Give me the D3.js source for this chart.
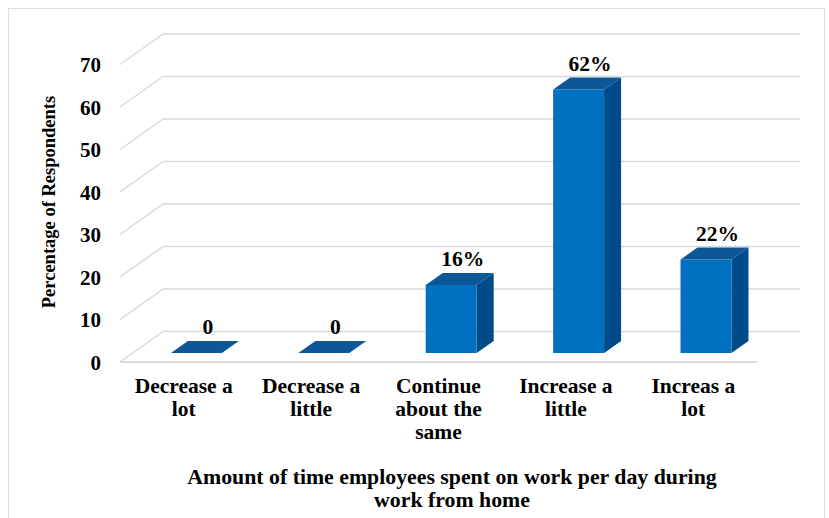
<!DOCTYPE html>
<html>
<head>
<meta charset="utf-8">
<script src="https://cdn.jsdelivr.net/npm/d3@7"></script>
<style>
  html, body { margin: 0; padding: 0; background: #fff; }
  svg { display: block; }
  text { font-family: "Liberation Serif", "Times New Roman", serif; font-weight: bold; fill: #000; }
</style>
</head>
<body>
<svg id="chart" width="829" height="518"></svg>
<script>
// ---- data ----
const categories = [
  ["Decrease a", "lot"],
  ["Decrease a", "little"],
  ["Continue", "about the", "same"],
  ["Increase a", "little"],
  ["Increas a", "lot"]
];
const values = [0, 0, 16, 62, 22];
const valueLabels = ["0", "0", "16%", "62%", "22%"];
const yTicks = [0, 10, 20, 30, 40, 50, 60, 70];
const yTitle = "Percentage of Respondents";
const xTitle = ["Amount of time employees spent on work per day during", "work from home"];

(function () {
// ---- layout ----
const svg = d3.select("#chart");
const pLeft = 120, pRight = 757, pBottom = 362, pTop = 64.5;
const depthX = 43, depthY = -30.5;     // floor depth
const barOffX = 12.7, barOffY = -9;    // bar front offset into depth
const barDX = 17, barDY = -12;         // bar depth

const keys = categories.map((c, i) => i);
const x = d3.scaleBand().domain(keys).range([pLeft, pRight]).paddingInner(0.6).paddingOuter(0.3);
const xc = d3.scaleBand().domain(keys).range([pLeft, pRight]).padding(0);
const y = d3.scaleLinear().domain([0, 70]).range([pBottom, pTop]);

const gridColor = "#d9d9d9";

// outer frame
svg.append("rect").attr("x", 8.5).attr("y", 8.5).attr("width", 816).attr("height", 530)
  .attr("fill", "none").attr("stroke", "#dcdcdc").attr("stroke-width", 1);

// gridlines (back wall + side wall diagonals)
const grid = svg.append("g");
yTicks.forEach(t => {
  const yy = y(t);
  grid.append("line")
    .attr("x1", pLeft + depthX).attr("x2", pRight + depthX)
    .attr("y1", yy + depthY).attr("y2", yy + depthY)
    .attr("stroke", gridColor).attr("stroke-width", 1.5);
  grid.append("line")
    .attr("x1", pLeft).attr("y1", yy)
    .attr("x2", pLeft + depthX).attr("y2", yy + depthY)
    .attr("stroke", gridColor).attr("stroke-width", 1.5);
});
// floor front edge
grid.append("line").attr("x1", pLeft).attr("x2", pRight).attr("y1", y(0)).attr("y2", y(0))
  .attr("stroke", gridColor).attr("stroke-width", 2);

// y tick labels
const yAxis = d3.axisLeft(y).tickValues(yTicks).tickSize(0).tickPadding(0);
const ya = svg.append("g").attr("transform", `translate(${pLeft - 19},0)`).call(yAxis);
ya.select(".domain").remove();
ya.selectAll("text").style("font-family", '"Liberation Serif", serif').style("font-weight", "bold")
  .style("font-size", "21px").attr("fill", "#000").attr("dy", "0.34em");

// bars
const bars = svg.append("g");
const cFront = "#0070c0", cSide = "#004b89", cTop = "#0d5799";
values.forEach((v, i) => {
  const x0 = x(i) + barOffX, x1 = x0 + x.bandwidth();
  const yb = y(0) + barOffY, yt = y(v) + barOffY;
  bars.append("path")
    .attr("d", `M${x1},${yb} L${x1 + barDX},${yb + barDY} L${x1 + barDX},${yt + barDY} L${x1},${yt} Z`)
    .attr("fill", cSide);
  if (v > 0) {
    bars.append("rect").attr("x", x0).attr("y", yt).attr("width", x1 - x0).attr("height", yb - yt)
      .attr("fill", cFront);
  }
  bars.append("path")
    .attr("d", `M${x0},${yt} L${x1},${yt} L${x1 + barDX},${yt + barDY} L${x0 + barDX},${yt + barDY} Z`)
    .attr("fill", cTop);
  svg.append("text")
    .attr("x", x0 + x.bandwidth() / 2 + barDX / 2 + 3)
    .attr("y", yt + barDY - 7)
    .attr("text-anchor", "middle")
    .style("font-size", "21.5px")
    .text(valueLabels[i]);
});

// category labels
categories.forEach((lines, i) => {
  const cx = xc(i) + xc.bandwidth() / 2;
  const t = svg.append("text").attr("text-anchor", "middle").style("font-size", "21.5px");
  lines.forEach((ln, j) => {
    t.append("tspan").attr("x", cx).attr("y", 393 + j * 23).text(ln);
  });
});

// y axis title
svg.append("text")
  .attr("transform", "translate(54.5,202) rotate(-90)")
  .attr("text-anchor", "middle")
  .style("font-size", "18.5px")
  .text(yTitle);

// x axis title
xTitle.forEach((ln, j) => {
  svg.append("text")
    .attr("x", 452).attr("y", 484 + j * 23)
    .attr("text-anchor", "middle")
    .style("font-size", "21.8px")
    .text(ln);
});
})();
</script>
</body>
</html>
